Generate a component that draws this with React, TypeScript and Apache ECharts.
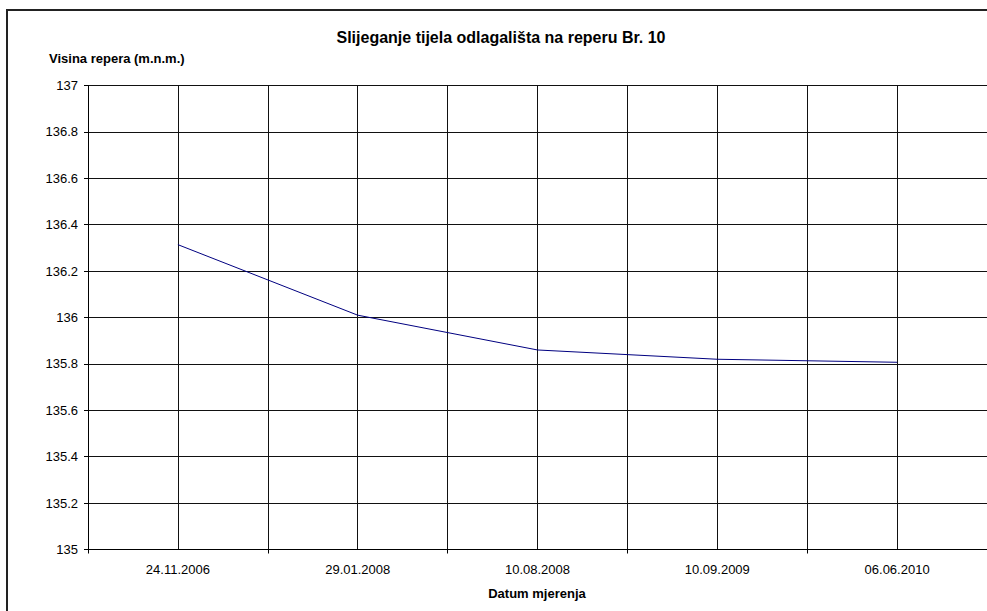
import React, { useEffect, useRef } from "react";
import * as echarts from "echarts";

const categories = ["24.11.2006", "29.01.2008", "10.08.2008", "10.09.2009", "06.06.2010"];
const heights = [136.314, 136.01, 135.86, 135.82, 135.807];
const chartTitle = "Slijeganje tijela odlagališta na reperu Br. 10";
const yAxisTitle = "Visina repera (m.n.m.)";
const xAxisTitle = "Datum mjerenja";

const FONT = "'Liberation Sans', Arial, sans-serif";

export default function App() {
  const ref = useRef<HTMLDivElement>(null);
  useEffect(() => {
    const chart = echarts.init(ref.current!, null, { renderer: "svg" });
    chart.setOption({
      animation: false,
      backgroundColor: "#ffffff",
      title: {
        text: chartTitle,
        left: 496,
        textAlign: "center",
        top: 24,
        textStyle: { fontFamily: FONT, fontSize: 16, fontWeight: "bold", color: "#000" },
      },
      graphic: [
        {
          type: "rect",
          shape: { x: 7, y: 10, width: 1000, height: 620 },
          style: { fill: "none", stroke: "#222", lineWidth: 2 },
          silent: true,
        },
        {
          type: "text",
          x: 49,
          y: 52,
          style: { text: yAxisTitle, font: `bold 13px ${FONT}`, fill: "#000" },
        },
        {
          type: "text",
          x: 537,
          y: 587,
          style: { text: xAxisTitle, font: `bold 13px ${FONT}`, fill: "#000", textAlign: "center" },
        },
      ],
      grid: { left: 88, top: 85.5, width: 900, height: 464, containLabel: false },
      xAxis: [
        {
          type: "category",
          data: categories,
          boundaryGap: true,
          axisLine: { lineStyle: { color: "#000", width: 1 } },
          axisTick: { show: true, length: 4, lineStyle: { color: "#000" } },
          axisLabel: { fontFamily: FONT, fontSize: 13, color: "#000", margin: 13 },
          splitLine: { show: true, lineStyle: { color: "#111", width: 1 } },
        },
        {
          type: "value",
          min: 0,
          max: 10,
          interval: 1,
          show: true,
          position: "bottom",
          axisLine: { show: false },
          axisTick: { show: false },
          axisLabel: { show: false },
          splitLine: { show: true, lineStyle: { color: "#111", width: 1 } },
        },
      ],
      yAxis: {
        type: "value",
        min: 135,
        max: 137,
        interval: 0.2,
        axisLine: { show: true, lineStyle: { color: "#000", width: 1 } },
        axisTick: { show: true, length: 4, lineStyle: { color: "#000" } },
        axisLabel: {
          fontFamily: FONT,
          fontSize: 13,
          color: "#000",
          margin: 10,
          formatter: (v: number) => String(Math.round(v * 10) / 10),
        },
        splitLine: { show: true, lineStyle: { color: "#111", width: 1 } },
      },
      series: [
        {
          type: "line",
          xAxisIndex: 0,
          data: heights,
          symbol: "none",
          lineStyle: { color: "#000080", width: 1 },
        },
      ],
    });
    return () => chart.dispose();
  }, []);
  return (
    <div
      ref={ref}
      style={{ position: "absolute", left: 0, top: 0, width: 987, height: 611 }}
    />
  );
}
